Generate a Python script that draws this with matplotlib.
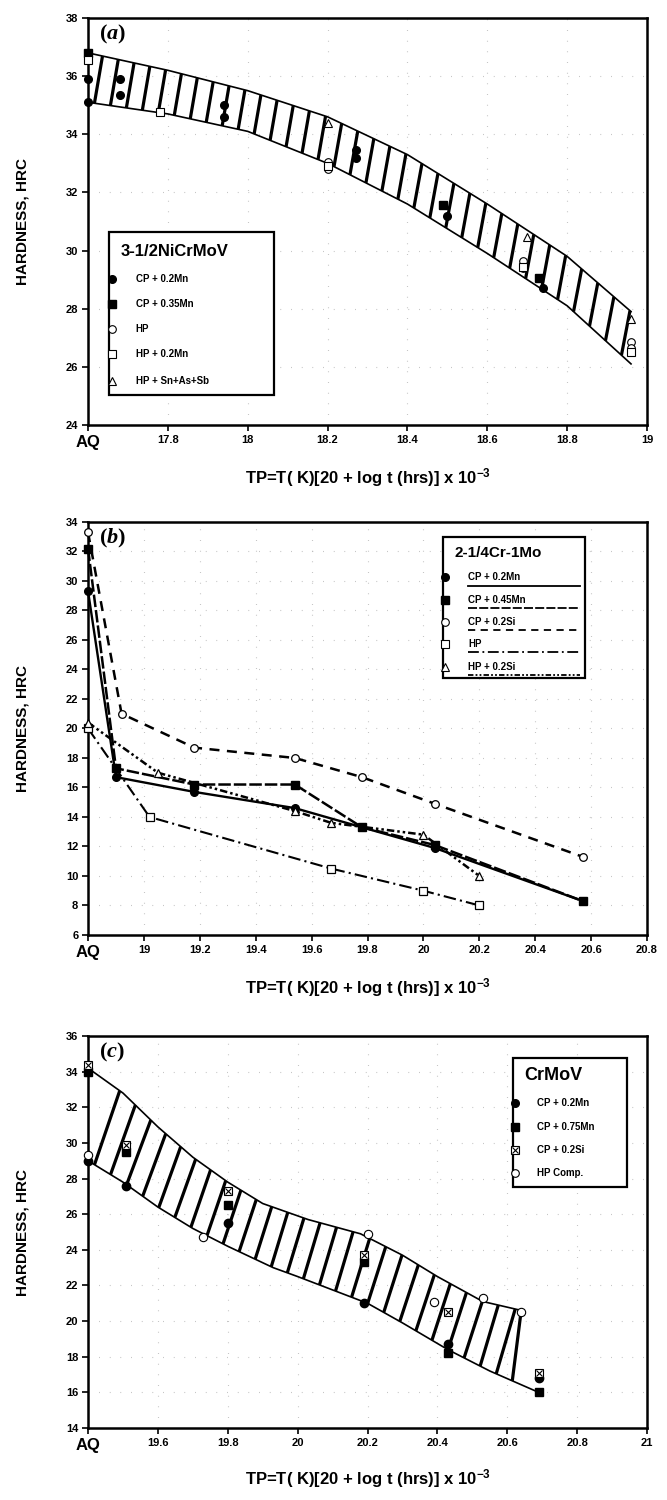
import numpy as np
import matplotlib
matplotlib.use("Agg")
import matplotlib.pyplot as plt
from matplotlib.collections import LineCollection
from matplotlib.patches import Rectangle

plt.rcParams['font.family'] = ['Liberation Sans', 'DejaVu Sans']
plt.rcParams['font.weight'] = 'bold'
plt.rcParams['mathtext.fontset'] = 'custom'
plt.rcParams['mathtext.rm'] = 'Liberation Serif'
plt.rcParams['mathtext.it'] = 'Liberation Serif:italic'
plt.rcParams['mathtext.bf'] = 'Liberation Sans:bold'

# ---------------- (a) 3-1/2NiCrMoV ----------------
a_band_x = [17.6, 17.8, 18.0, 18.2, 18.4, 18.6, 18.8, 18.96]
a_band_hi = [36.8, 36.2, 35.5, 34.6, 33.3, 31.6, 29.8, 27.9]
a_band_lo = [35.1, 34.7, 34.1, 33.0, 31.6, 29.9, 28.1, 26.1]

a_cp02mn_x = [17.6, 17.6, 17.68, 17.68, 17.94, 17.94, 18.27, 18.27, 18.5, 18.74]
a_cp02mn_y = [35.9, 35.1, 35.9, 35.35, 35.0, 34.6, 33.45, 33.2, 31.2, 28.7]
a_cp035mn_x = [17.6, 18.49, 18.73]
a_cp035mn_y = [36.8, 31.55, 29.05]
a_hp_x = [18.2, 18.2, 18.69, 18.69, 18.96, 18.96]
a_hp_y = [33.05, 32.8, 29.65, 29.4, 26.85, 26.65]
a_hp02mn_x = [17.6, 17.78, 18.2, 18.69, 18.96]
a_hp02mn_y = [36.55, 34.75, 32.9, 29.45, 26.5]
a_hpsn_x = [18.2, 18.7, 18.96]
a_hpsn_y = [34.4, 30.45, 27.65]

a_xticks = [17.6, 17.8, 18.0, 18.2, 18.4, 18.6, 18.8, 19.0]
a_xlabels = ['AQ', '17.8', '18', '18.2', '18.4', '18.6', '18.8', '19']
a_yticks = list(range(24, 39, 2))

# ---------------- (b) 2-1/4Cr-1Mo ----------------
b_cp02mn_x = [18.8, 18.9, 19.18, 19.54, 19.78, 20.04, 20.57]
b_cp02mn_y = [29.3, 16.7, 15.7, 14.6, 13.3, 11.9, 8.3]
b_cp045mn_x = [18.8, 18.9, 19.18, 19.54, 19.78, 20.04, 20.57]
b_cp045mn_y = [32.2, 17.3, 16.2, 16.2, 13.3, 12.1, 8.3]
b_cp02si_x = [18.8, 18.92, 19.18, 19.54, 19.78, 20.04, 20.57]
b_cp02si_y = [33.3, 21.0, 18.7, 18.0, 16.7, 14.9, 11.3]
b_hp_x = [18.8, 19.02, 19.67, 20.0, 20.2]
b_hp_y = [20.0, 14.0, 10.5, 9.0, 8.0]
b_hp02si_x = [18.8, 19.05, 19.54, 19.67, 20.0, 20.2]
b_hp02si_y = [20.4, 17.0, 14.4, 13.6, 12.8, 10.0]

b_xticks = [18.8, 19.0, 19.2, 19.4, 19.6, 19.8, 20.0, 20.2, 20.4, 20.6, 20.8]
b_xlabels = ['AQ', '19', '19.2', '19.4', '19.6', '19.8', '20', '20.2', '20.4', '20.6', '20.8']
b_yticks = list(range(6, 35, 2))

# ---------------- (c) CrMoV ----------------
c_hi_x = [19.4, 19.5, 19.6, 19.7, 19.8, 19.9, 20.03, 20.18, 20.3, 20.4, 20.53, 20.64]
c_hi_y = [34.2, 32.8, 30.9, 29.2, 27.8, 26.6, 25.7, 24.9, 23.7, 22.5, 21.1, 20.6]
c_lo_x = [19.4, 19.5, 19.6, 19.7, 19.8, 19.93, 20.0, 20.2, 20.3, 20.43, 20.55, 20.69]
c_lo_y = [29.0, 27.8, 26.4, 25.2, 24.2, 23.0, 22.5, 21.0, 19.9, 18.4, 17.2, 16.0]

c_cp02mn_x = [19.4, 19.51, 19.8, 20.19, 20.43, 20.69]
c_cp02mn_y = [29.0, 27.6, 25.5, 21.0, 18.7, 16.8]
c_cp075mn_x = [19.4, 19.51, 19.8, 20.19, 20.43, 20.69]
c_cp075mn_y = [34.0, 29.5, 26.5, 23.3, 18.2, 16.0]
c_cp02si_x = [19.4, 19.51, 19.8, 20.19, 20.43, 20.69]
c_cp02si_y = [34.4, 29.9, 27.3, 23.7, 20.5, 17.1]
c_hp_x = [19.4, 19.73, 20.2, 20.39, 20.53, 20.64]
c_hp_y = [29.3, 24.7, 24.9, 21.1, 21.3, 20.5]

c_xticks = [19.4, 19.6, 19.8, 20.0, 20.2, 20.4, 20.6, 20.8, 21.0]
c_xlabels = ['AQ', '19.6', '19.8', '20', '20.2', '20.4', '20.6', '20.8', '21']
c_yticks = list(range(14, 37, 2))

XLABEL = r'TP=T( K)[20 + log t (hrs)] x $\mathbf{10^{-3}}$'


def style_axes(ax, xticks, xlabels, yticks, letter):
    ax.set_xlim(xticks[0], xticks[-1])
    ax.set_ylim(yticks[0], yticks[-1])
    ax.set_xticks(xticks)
    ax.set_xticklabels(xlabels, fontsize=8, fontweight='bold')
    ax.get_xticklabels()[0].set_fontsize(12)
    ax.set_yticks(yticks)
    ax.set_yticklabels([str(t) for t in yticks], fontsize=8, fontweight='bold')
    ax.tick_params(direction='out', length=4, width=1.2, pad=3)
    for s in ax.spines.values():
        s.set_linewidth(1.8)
    ax.grid(True, color='#aaaaaa', linestyle=(0, (0.6, 9)), linewidth=0.8)
    ax.set_axisbelow(True)
    ax.set_ylabel('HARDNESS, HRC', fontsize=11, fontweight='bold')
    ax.yaxis.set_label_coords(-0.105, 0.5)
    ax.set_xlabel(XLABEL, fontsize=12, fontweight='bold')
    ax.xaxis.set_label_coords(0.5, -0.1)
    ax.text(0.02, 0.988, r'$(' + letter + ')$', transform=ax.transAxes,
            fontsize=16, va='top', ha='left')


def hatch_band(ax, lo_x, lo_y, hi_x, hi_y, step, tilt, lw):
    x_end = min(lo_x[-1], hi_x[-1])
    segs = []
    for x in np.arange(lo_x[0] + step * 0.4, x_end, step):
        y0 = np.interp(x, lo_x, lo_y)
        h = np.interp(x, hi_x, hi_y) - y0
        xt = min(x + tilt * h, x_end)
        segs.append([(x, y0), (xt, np.interp(xt, hi_x, hi_y))])
    ax.add_collection(LineCollection(segs, colors='black', linewidths=lw, zorder=2))
    ax.plot(lo_x, lo_y, color='black', lw=1.2, zorder=2)
    ax.plot(hi_x, hi_y, color='black', lw=1.2, zorder=2)


def legend_box(ax, box, title, title_y, title_size, entries, ys, tx, lines=None, crossed=None):
    x0, y0, x1, y1 = box
    mx = x0 + 0.004
    ax.add_patch(Rectangle((x0, y0), x1 - x0, y1 - y0, transform=ax.transAxes,
                           facecolor='white', edgecolor='black', lw=1.6, zorder=5))
    ax.text(x0 + 0.02, title_y, title, transform=ax.transAxes, fontsize=title_size,
            fontweight='bold', va='center', ha='left', zorder=6)
    for i, (label, mk) in enumerate(entries):
        y = ys[i]
        ax.plot([mx], [y], transform=ax.transAxes, clip_on=False, zorder=7, **mk)
        if crossed == i:
            ax.plot([mx], [y], transform=ax.transAxes, clip_on=False, zorder=8,
                    marker='x', ms=4, mec='black', mew=0.8, ls='none')
        ax.text(tx, y, label, transform=ax.transAxes, fontsize=7, fontweight='bold',
                va='center', ha='left', zorder=6)
        if lines is not None:
            ax.plot([tx, x1 - 0.008], [y - 0.02, y - 0.02], transform=ax.transAxes,
                    color='black', lw=1.3, ls=lines[i], zorder=6)


fig = plt.figure(figsize=(6.67, 15), dpi=100)
axa = fig.add_axes([0.132, 0.7167, 0.838, 0.2713])
axb = fig.add_axes([0.132, 0.3767, 0.838, 0.2753])
axc = fig.add_axes([0.132, 0.0480, 0.838, 0.2613])

# ---- panel (a)
hatch_band(axa, a_band_x, a_band_lo, a_band_x, a_band_hi, 0.04, 0.012, 2.3)
ms = 5.5
filled_c = dict(marker='o', ms=ms, mfc='black', mec='black', ls='none')
filled_s = dict(marker='s', ms=ms, mfc='black', mec='black', ls='none')
open_c = dict(marker='o', ms=ms, mfc='white', mec='black', mew=0.8, ls='none')
open_s = dict(marker='s', ms=ms, mfc='white', mec='black', mew=0.8, ls='none')
open_t = dict(marker='^', ms=ms, mfc='white', mec='black', mew=0.8, ls='none')
axa.plot(a_cp02mn_x, a_cp02mn_y, zorder=4, clip_on=False, **filled_c)
axa.plot(a_cp035mn_x, a_cp035mn_y, zorder=4, clip_on=False, **filled_s)
axa.plot(a_hp_x, a_hp_y, zorder=4, clip_on=False, **open_c)
axa.plot(a_hp02mn_x, a_hp02mn_y, zorder=4, clip_on=False, **open_s)
axa.plot(a_hpsn_x, a_hpsn_y, zorder=4, clip_on=False, **open_t)
style_axes(axa, a_xticks, a_xlabels, a_yticks, 'a')
legend_box(axa, (0.038, 0.074, 0.333, 0.474), '3-1/2NiCrMoV', 0.425, 12,
           [('CP + 0.2Mn', filled_c), ('CP + 0.35Mn', filled_s), ('HP', open_c),
            ('HP + 0.2Mn', open_s), ('HP + Sn+As+Sb', open_t)],
           [0.359, 0.297, 0.236, 0.174, 0.108], 0.085)

# ---- panel (b)
ls_b = ['-', (0, (5, 1.2)), (0, (4, 3)), (0, (6, 2, 1, 2)), (0, (3, 1.2, 1, 1.2, 1, 1.2))]
bms = 5.5
axb.plot(b_cp02mn_x, b_cp02mn_y, color='black', lw=1.7, ls=ls_b[0], zorder=3,
         marker='o', ms=bms, mfc='black', mec='black', clip_on=False)
axb.plot(b_cp045mn_x, b_cp045mn_y, color='black', lw=1.8, ls=ls_b[1], zorder=3,
         marker='s', ms=bms, mfc='black', mec='black', clip_on=False)
axb.plot(b_cp02si_x, b_cp02si_y, color='black', lw=1.8, ls=ls_b[2], zorder=3,
         marker='o', ms=bms, mfc='white', mec='black', mew=0.9, clip_on=False)
axb.plot(b_hp_x, b_hp_y, color='black', lw=1.5, ls=ls_b[3], zorder=3,
         marker='s', ms=bms, mfc='white', mec='black', mew=0.9, clip_on=False)
axb.plot(b_hp02si_x, b_hp02si_y, color='black', lw=1.8, ls=ls_b[4], zorder=3,
         marker='^', ms=bms, mfc='white', mec='black', mew=0.9, clip_on=False)
style_axes(axb, b_xticks, b_xlabels, b_yticks, 'b')
legend_box(axb, (0.635, 0.622, 0.889, 0.964), '2-1/4Cr-1Mo', 0.925, 11,
           [('CP + 0.2Mn', filled_c), ('CP + 0.45Mn', filled_s), ('CP + 0.2Si', open_c),
            ('HP', open_s), ('HP + 0.2Si', open_t)],
           [0.866, 0.812, 0.758, 0.704, 0.650], 0.68, lines=ls_b)

# ---- panel (c)
hatch_band(axc, c_lo_x, c_lo_y, c_hi_x, c_hi_y, 0.046, 0.014, 2.3)
cms = 6
axc.plot(c_cp02mn_x, c_cp02mn_y, zorder=4, clip_on=False,
         **dict(filled_c, ms=cms))
axc.plot(c_cp075mn_x, c_cp075mn_y, zorder=4, clip_on=False,
         **dict(filled_s, ms=cms))
axc.plot(c_cp02si_x, c_cp02si_y, zorder=4, clip_on=False,
         **dict(open_s, ms=cms))
axc.plot(c_cp02si_x, c_cp02si_y, zorder=4, clip_on=False,
         marker='x', ms=4, mec='black', mew=0.8, ls='none')
axc.plot(c_hp_x, c_hp_y, zorder=4, clip_on=False, **dict(open_c, ms=cms))
style_axes(axc, c_xticks, c_xlabels, c_yticks, 'c')
legend_box(axc, (0.76, 0.615, 0.964, 0.944), 'CrMoV', 0.9, 13,
           [('CP + 0.2Mn', filled_c), ('CP + 0.75Mn', filled_s), ('CP + 0.2Si', open_s),
            ('HP Comp.', open_c)],
           [0.829, 0.768, 0.709, 0.650], 0.803, crossed=2)

fig.savefig('out.png', dpi=100)
